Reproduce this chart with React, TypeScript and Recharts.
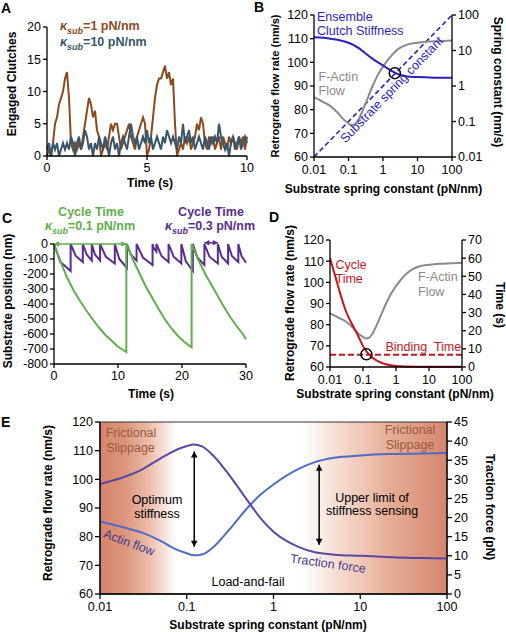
import React from 'react';
import { LineChart, Line, XAxis, YAxis, ReferenceDot, ReferenceLine, ReferenceArea } from 'recharts';

const FONT = '"Liberation Sans", Arial, Helvetica, sans-serif';

// A: engaged clutches, sampled every 0.1 s from 0 to 10 s
const clutchesSoft = [
  0, 1, 0, 2, 5, 6, 8, 9, 10, 12,
  13, 9, 2, 1, 2, 1, 2, 1, 3, 5,
  7, 9, 8, 6, 7, 4, 3, 0, 1, 2,
  1, 3, 5, 4, 5, 5, 3, 1, 2, 3,
  4, 5, 3, 2, 1, 3, 4, 5, 6, 5,
  0, 1, 3, 6, 9, 11, 12, 12, 13, 14,
  12, 13, 11, 12, 5, 0, 1, 2, 1, 3,
  2, 3, 1, 2, 3, 5, 4, 6, 5, 2,
  1, 3, 2, 3, 1, 2, 3, 1, 3, 2,
  1, 3, 2, 3, 2, 1, 3, 2, 3, 1,
  3,
];
const clutchesStiff = [
  1, 2, 0, 2, 1, 2, 0, 1, 2, 1,
  2, 1, 3, 2, 0, 2, 3, 1, 2, 4,
  3, 1, 2, 0, 2, 1, 3, 2, 1, 3,
  2, 0, 2, 3, 1, 2, 0, 2, 3, 2,
  1, 3, 5, 3, 2, 3, 1, 2, 3, 2,
  4, 2, 3, 1, 2, 3, 2, 1, 3, 2,
  4, 3, 2, 3, 2, 1, 3, 2, 5, 2,
  3, 4, 2, 3, 1, 2, 3, 2, 1, 3,
  2, 1, 3, 2, 3, 2, 5, 3, 2, 1,
  2, 0, 2, 3, 1, 2, 3, 1, 2, 3,
  2,
];

// F-actin retrograde flow (B, D, E) and traction force (E)
const flowK = [0.01, 0.02, 0.03, 0.05, 0.07, 0.1, 0.12, 0.15, 0.2, 0.3, 0.5, 0.7, 1, 2, 3, 5, 10, 20, 50, 100];
const flowRate = [85.3, 83, 81.5, 78.5, 76, 74.2, 73.5, 73.8, 76.2, 82, 90, 94.5, 98.2, 103.8, 106, 107.5, 108.3, 108.8, 109, 109.2];
const tractionForce = [28.8, 30.8, 32.5, 35.5, 37.3, 38.7, 39.1, 38.6, 36.3, 31.5, 24.5, 20, 16.3, 12.2, 10.9, 10.3, 10, 9.7, 9.4, 9.3];

// B: ensemble clutch stiffness vs substrate spring constant
const stiffK = [0.01, 0.03, 0.1, 0.2, 0.3, 0.5, 1, 2, 3, 5, 10, 30, 100];
const ensembleStiffness = [23.5, 21.5, 16.5, 11.7, 8.5, 5.8, 3.8, 2.5, 2.05, 1.85, 1.78, 1.72, 1.7];
const springK = [0.01, 100];
const springValue = [0.01, 100];

// C: substrate position traces
const greenT = [0, 1, 2, 3, 4, 5, 6, 7, 8, 9, 10, 11.3,
  11.3, 12.3, 13.3, 14.3, 15.3, 16.3, 17.3, 18.3, 19.3, 20.3, 21.5,
  21.5, 22.5, 23.5, 24.5, 25.5, 26.5, 27.5, 28.5, 29.5, 30];
const greenY = [0, -115, -220, -305, -375, -440, -500, -555, -605, -645, -685, -720,
  0, -100, -190, -280, -355, -430, -500, -560, -610, -650, -690,
  0, -100, -190, -265, -340, -415, -485, -545, -600, -635];
const purpleT = [0, 1.0, 2.6, 2.6, 3.4, 4.5, 4.5, 5.1, 5.9, 5.9, 6.4, 7.2, 7.2, 8.1, 9.5,
  9.5, 10.2, 11.4, 11.4, 12.0, 12.9, 12.9, 13.9, 15.4, 15.4, 15.6, 16.0, 16.0, 16.8, 17.9,
  17.9, 18.7, 19.9, 19.9, 20.6, 21.7, 21.7, 22.4, 23.5, 23.5, 24.3, 25.6, 25.6, 26.2, 27.2,
  27.2, 27.8, 28.8, 28.8, 29.3, 30];
const purpleY = [0, -120, -180, 0, -80, -120, 0, -70, -110, 0, -70, -110, 0, -85, -130,
  0, -100, -160, 0, -70, -110, 0, -90, -140, 0, -30, -50, 0, -80, -120,
  0, -85, -130, 0, -115, -180, 0, -90, -140, 0, -85, -130, 0, -85, -130,
  0, -80, -120, 0, -80, -125];

// D: cycle time and binding time
const cycleK = [0.01, 0.015, 0.02, 0.03, 0.05, 0.07, 0.1, 0.13, 0.2, 0.3, 0.5, 1, 2, 5, 10, 100];
const cycleTime = [60, 49, 41, 31, 22.5, 17.5, 11.5, 8.3, 5, 3, 1.5, 0.5, 0.25, 0.15, 0.1, 0.1];
const bindingK = [0.01, 100];
const bindingTime = [6.8, 6.8];

const logTicks = [0.01, 0.1, 1, 10, 100];
const flowTicks = [60, 70, 80, 90, 100, 110, 120];

const dataA = clutchesSoft.map((v, i) => ({ t: i / 10, soft: v, stiff: clutchesStiff[i] }));
const flowData = flowK.map((k, i) => ({ k, v: flowRate[i] }));
const tractionData = flowK.map((k, i) => ({ k, v: tractionForce[i] }));
const ensembleData = stiffK.map((k, i) => ({ k, v: ensembleStiffness[i] }));
const springData = springK.map((k, i) => ({ k, v: springValue[i] }));
const greenData = greenT.map((t, i) => ({ t, v: greenY[i] }));
const purpleData = purpleT.map((t, i) => ({ t, v: purpleY[i] }));
const cycleData = cycleK.map((k, i) => ({ k, v: cycleTime[i] }));
const bindingData = bindingK.map((k, i) => ({ k, v: bindingTime[i] }));

const ax = { stroke: '#000', strokeWidth: 1.3 };
const tick = { fontSize: 12.5, fill: '#000' };

const arrow = (color: string, head = 5) => (p: any) => {
  const { x1, y1, x2, y2 } = p;
  const a = Math.atan2(y2 - y1, x2 - x1);
  const tip = (x: number, y: number, ang: number) => {
    const w = head * 0.55;
    const bx = x - head * Math.cos(ang);
    const by = y - head * Math.sin(ang);
    return `${x},${y} ${bx + w * Math.sin(ang)},${by - w * Math.cos(ang)} ${bx - w * Math.sin(ang)},${by + w * Math.cos(ang)}`;
  };
  return (
    <g>
      <line x1={x1} y1={y1} x2={x2} y2={y2} stroke={color} strokeWidth={1.5} />
      <polygon points={tip(x2, y2, a)} fill={color} />
      <polygon points={tip(x1, y1, a + Math.PI)} fill={color} />
    </g>
  );
};

type TP = { x: number; y: number; children: React.ReactNode; size?: number; color?: string; bold?: boolean; rot?: number; anchor?: 'c' | 'l' };
const T = ({ x, y, children, size = 12, color = '#000', bold = false, rot = 0, anchor = 'c' }: TP) => (
  <div
    style={{
      position: 'absolute', left: x, top: y, fontSize: size, lineHeight: 1, color,
      fontWeight: bold ? 'bold' : 'normal', whiteSpace: 'pre',
      transform: `translate(${anchor === 'c' ? '-50%' : '0'},-50%) rotate(${rot}deg)`,
    }}
  >
    {children}
  </div>
);

const Kappa = ({ v }: { v: string }) => (
  <span><i>κ</i><sub style={{ fontSize: 9, fontStyle: 'italic' }}>sub</sub>{v}</span>
);

const at = (left: number, top: number): React.CSSProperties => ({ position: 'absolute', left, top });

const BLUE = '#2b1fbf';
const GRAY = '#8a8a8a';
const RED = '#c4161c';
const BROWN = '#9b5a3c';

export default function App() {
  return (
    <div style={{ position: 'absolute', left: 0, top: 0, width: 506, height: 632, background: '#fff', fontFamily: FONT, overflow: 'hidden' }}>
      {/* A */}
      <div style={at(17, 19)}>
        <LineChart width={238} height={157} data={dataA} margin={{ top: 8, right: 8, left: 0, bottom: 0 }}>
          <XAxis dataKey="t" type="number" domain={[0, 10]} ticks={[0, 5, 10]} height={20} axisLine={ax} tickLine={ax} tickSize={4} tickMargin={3} tick={tick} interval={0} />
          <YAxis type="number" domain={[0, 20]} ticks={[0, 5, 10, 15, 20]} width={30} axisLine={ax} tickLine={ax} tickSize={4} tick={tick} interval={0} />
          <Line dataKey="soft" type="linear" stroke="#8b4a1e" strokeWidth={2} dot={false} isAnimationActive={false} />
          <Line dataKey="stiff" type="linear" stroke="#37566b" strokeWidth={2} dot={false} isAnimationActive={false} />
        </LineChart>
      </div>
      <T x={1} y={8} size={14} bold anchor="l">A</T>
      <T x={60} y={27.5} size={12.5} bold color="#8b4a1e" anchor="l"><Kappa v="=1 pN/nm" /></T>
      <T x={60} y={43.5} size={12.5} bold color="#37566b" anchor="l"><Kappa v="=10 pN/nm" /></T>
      <T x={12} y={84} bold rot={-90}>Engaged Clutches</T>
      <T x={150} y={182.5} bold>Time (s)</T>

      {/* B */}
      <div style={at(278, 7)}>
        <LineChart width={210} height={172} margin={{ top: 8, right: 0, left: 0, bottom: 0 }}>
          <XAxis dataKey="k" type="number" scale="log" domain={[0.01, 100]} ticks={logTicks} allowDataOverflow height={22} axisLine={ax} tickLine={ax} tickSize={4} tickMargin={4} tick={tick} interval={0} />
          <YAxis yAxisId="l" type="number" domain={[60, 120]} ticks={flowTicks} width={36} axisLine={ax} tickLine={ax} tickSize={4} tick={tick} interval={0} />
          <YAxis yAxisId="r" orientation="right" type="number" scale="log" domain={[0.01, 100]} ticks={logTicks} allowDataOverflow width={36} axisLine={ax} tickLine={ax} tickSize={4} tick={tick} interval={0} />
          <Line data={springData} dataKey="v" yAxisId="r" type="linear" stroke={BLUE} strokeWidth={1.6} strokeDasharray="5 3" dot={false} isAnimationActive={false} />
          <Line data={flowData} dataKey="v" yAxisId="l" type="monotone" stroke={GRAY} strokeWidth={2} dot={false} isAnimationActive={false} />
          <Line data={ensembleData} dataKey="v" yAxisId="r" type="monotone" stroke={BLUE} strokeWidth={2} dot={false} isAnimationActive={false} />
          <ReferenceDot yAxisId="r" x={2.2} y={2.3} r={5.5} fill="none" stroke="#000" strokeWidth={1.5} />
        </LineChart>
      </div>
      <T x={254} y={7} size={14} bold anchor="l">B</T>
      <T x={317} y={16.5} size={12.5} color={BLUE} anchor="l">Ensemble</T>
      <T x={317} y={31} size={12.5} color={BLUE} anchor="l">Clutch Stiffness</T>
      <T x={318.5} y={76.5} size={12.5} color={GRAY} anchor="l">F-Actin</T>
      <T x={318.5} y={91} size={12.5} color={GRAY} anchor="l">Flow</T>
      <T x={392} y={90} size={12.5} color={BLUE} rot={-46}>Substrate spring constant</T>
      <T x={275} y={86} size={11} bold rot={-90}>Retrograde flow rate (nm/s)</T>
      <T x={498} y={82} bold rot={90}>Spring constant (nm/s)</T>
      <T x={383.5} y={189} bold>Substrate spring constant (pN/nm)</T>

      {/* C */}
      <div style={at(16, 238)}>
        <LineChart width={238} height={146} margin={{ top: 6, right: 8, left: 0, bottom: 0 }}>
          <XAxis dataKey="t" type="number" domain={[0, 30]} ticks={[0, 10, 20, 30]} height={20} axisLine={ax} tickLine={ax} tickSize={4} tickMargin={3} tick={tick} interval={0} />
          <YAxis type="number" domain={[-800, 0]} ticks={[0, -100, -200, -300, -400, -500, -600, -700, -800]} width={38} axisLine={ax} tickLine={ax} tickSize={4} tick={tick} interval={0} />
          <Line data={purpleData} dataKey="v" type="linear" stroke="#5a2d8e" strokeWidth={2} dot={false} isAnimationActive={false} />
          <Line data={greenData} dataKey="v" type="linear" stroke="#5fae4b" strokeWidth={2} dot={false} isAnimationActive={false} />
          <ReferenceLine segment={[{ x: 0, y: 0 }, { x: 11.3, y: 0 }]} ifOverflow="visible" shape={arrow('#5fae4b')} />
          <ReferenceLine segment={[{ x: 23.5, y: 8 }, { x: 25.6, y: 8 }]} ifOverflow="visible" shape={arrow('#5a2d8e')} />
        </LineChart>
      </div>
      <T x={2} y={217.5} size={14} bold anchor="l">C</T>
      <T x={91} y={212} size={12.5} bold color="#5fae4b">Cycle Time</T>
      <T x={90} y={227.5} size={12.5} bold color="#5fae4b"><Kappa v="=0.1 pN/nm" /></T>
      <T x={211} y={212} size={12.5} bold color="#5a2d8e">Cycle Time</T>
      <T x={210} y={227.5} size={12.5} bold color="#5a2d8e"><Kappa v="=0.3 pN/nm" /></T>
      <T x={7.5} y={301} bold rot={-90}>Substrate position (nm)</T>
      <T x={151} y={394} bold>Time (s)</T>

      {/* D */}
      <div style={at(300, 234)}>
        <LineChart width={188} height={155} margin={{ top: 6, right: 0, left: 0, bottom: 0 }}>
          <XAxis dataKey="k" type="number" scale="log" domain={[0.01, 100]} ticks={logTicks} allowDataOverflow height={22} axisLine={ax} tickLine={ax} tickSize={4} tickMargin={4} tick={tick} interval={0} />
          <YAxis yAxisId="l" type="number" domain={[60, 120]} ticks={flowTicks} width={30} axisLine={ax} tickLine={ax} tickSize={4} tick={tick} interval={0} />
          <YAxis yAxisId="r" orientation="right" type="number" domain={[0, 70]} ticks={[0, 10, 20, 30, 40, 50, 60, 70]} width={26} axisLine={ax} tickLine={ax} tickSize={4} tick={tick} interval={0} />
          <Line data={flowData} dataKey="v" yAxisId="l" type="monotone" stroke={GRAY} strokeWidth={2} dot={false} isAnimationActive={false} />
          <Line data={bindingData} dataKey="v" yAxisId="r" type="linear" stroke={RED} strokeWidth={2} strokeDasharray="6 3" dot={false} isAnimationActive={false} />
          <Line data={cycleData} dataKey="v" yAxisId="r" type="monotone" stroke={RED} strokeWidth={2} dot={false} isAnimationActive={false} />
          <ReferenceDot yAxisId="r" x={0.127} y={7} r={5.5} fill="none" stroke="#000" strokeWidth={1.5} />
        </LineChart>
      </div>
      <T x={269} y={217} size={14} bold anchor="l">D</T>
      <T x={335.5} y={265} size={12.5} color={RED} anchor="l">Cycle</T>
      <T x={335.5} y={279} size={12.5} color={RED} anchor="l">Time</T>
      <T x={418} y={277} size={12.5} color={GRAY} anchor="l">F-Actin</T>
      <T x={418} y={292} size={12.5} color={GRAY} anchor="l">Flow</T>
      <T x={385.5} y={346.5} size={12.5} color={RED} anchor="l">Binding  Time</T>
      <T x={290} y={303} bold rot={-90}>Retrograde flow rate (nm/s)</T>
      <T x={500} y={305} bold rot={90}>Time (s)</T>
      <T x={395} y={394} bold>Substrate spring constant (pN/nm)</T>

      {/* E */}
      <div style={at(66, 414)}>
        <LineChart width={411} height={202} margin={{ top: 8, right: 0, left: 0, bottom: 0 }}>
          <defs>
            <linearGradient id="bgE" x1="0" y1="0" x2="1" y2="0">
              <stop offset="0" stopColor="#d6846a" />
              <stop offset="0.07" stopColor="#dc957c" />
              <stop offset="0.14" stopColor="#ebbba9" />
              <stop offset="0.22" stopColor="#ffffff" />
              <stop offset="0.58" stopColor="#ffffff" />
              <stop offset="0.7" stopColor="#f4d8cc" />
              <stop offset="0.84" stopColor="#e6ac95" />
              <stop offset="1" stopColor="#d6866c" />
            </linearGradient>
          </defs>
          <XAxis dataKey="k" type="number" scale="log" domain={[0.01, 100]} ticks={logTicks} allowDataOverflow height={22} axisLine={ax} tickLine={ax} tickSize={5} tickMargin={3} tick={tick} interval={0} />
          <YAxis yAxisId="l" type="number" domain={[60, 120]} ticks={flowTicks} width={34} axisLine={ax} tickLine={ax} tickSize={5} tick={tick} interval={0} />
          <YAxis yAxisId="r" orientation="right" type="number" domain={[0, 45]} ticks={[0, 5, 10, 15, 20, 25, 30, 35, 40, 45]} width={30} axisLine={ax} tickLine={ax} tickSize={5} tick={tick} interval={0} />
          <ReferenceArea yAxisId="l" x1={0.01} x2={100} y1={60} y2={120} fill="url(#bgE)" fillOpacity={1} stroke="#333" strokeWidth={1} />
          <Line data={flowData} dataKey="v" yAxisId="l" type="monotone" stroke="#4d6cc4" strokeWidth={2} dot={false} isAnimationActive={false} />
          <Line data={tractionData} dataKey="v" yAxisId="r" type="monotone" stroke="#5b46a3" strokeWidth={2} dot={false} isAnimationActive={false} />
          <ReferenceLine yAxisId="l" segment={[{ x: 0.122, y: 109.7 }, { x: 0.122, y: 76.5 }]} ifOverflow="visible" shape={arrow('#000', 6)} />
          <ReferenceLine yAxisId="l" segment={[{ x: 3.36, y: 105.1 }, { x: 3.36, y: 77.2 }]} ifOverflow="visible" shape={arrow('#000', 6)} />
        </LineChart>
      </div>
      <T x={1} y={422} size={14} bold anchor="l">E</T>
      <T x={131} y={433} size={12.5} color={BROWN}>Frictional</T>
      <T x={130.5} y={448} size={12.5} color={BROWN}>Slippage</T>
      <T x={410} y={430} size={12.5} color={BROWN}>Frictional</T>
      <T x={410} y={445} size={12.5} color={BROWN}>Slippage</T>
      <T x={157} y={500} size={12.5}>Optimum</T>
      <T x={157} y={514} size={12.5}>stiffness</T>
      <T x={372} y={497.5} size={12.5}>Upper limit of</T>
      <T x={372} y={511} size={12.5}>stiffness sensing</T>
      <T x={248} y={582} size={12.5}>Load-and-fail</T>
      <T x={129} y={543} size={12.5} color="#3f3a8a" rot={21}>Actin flow</T>
      <T x={328} y={564} size={12.5} color="#4a3d8c" rot={8}>Traction force</T>
      <T x={48} y={503} bold rot={-90}>Retrograde flow rate (nm/s)</T>
      <T x={490} y={507} bold rot={90}>Traction force (pN)</T>
      <T x={268} y={625} bold>Substrate spring constant (pN/nm)</T>
    </div>
  );
}
